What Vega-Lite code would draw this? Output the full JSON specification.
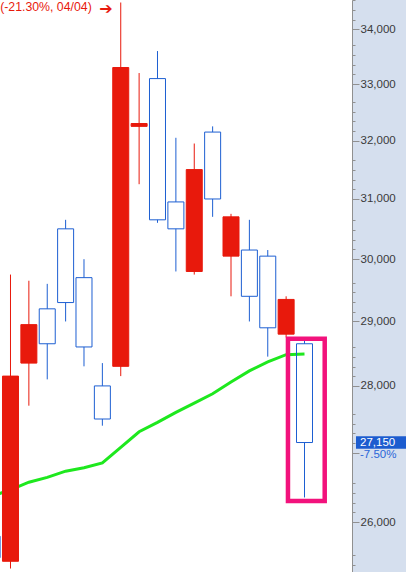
{
  "$schema": "https://vega.github.io/schema/vega-lite/v6.json",
  "width": 352,
  "height": 572,
  "autosize": {"type": "none"},
  "padding": {"left": 0, "top": 0, "right": 54, "bottom": 0},
  "background": "#d5dfee",
  "config": {"view": {"fill": "#ffffff", "stroke": null}, "font": "Liberation Sans"},
  "datasets": {
    "candles": [
      {"i": 0, "open": 25800, "high": 25950, "low": 25350, "close": 25500, "ma": 26370},
      {"i": 1, "open": 25450, "high": 29750, "low": 25350, "close": 28150, "ma": 26460},
      {"i": 2, "open": 28350, "high": 29650, "low": 27700, "close": 28950, "ma": 26570},
      {"i": 3, "open": 29200, "high": 29600, "low": 28100, "close": 28650, "ma": 26640},
      {"i": 4, "open": 30500, "high": 30650, "low": 29000, "close": 29300, "ma": 26730},
      {"i": 5, "open": 29700, "high": 30000, "low": 28300, "close": 28600, "ma": 26780},
      {"i": 6, "open": 28000, "high": 28350, "low": 27400, "close": 27500, "ma": 26850},
      {"i": 7, "open": 28300, "high": 34500, "low": 28150, "close": 33300, "ma": 27080},
      {"i": 8, "open": 32250, "high": 33200, "low": 31250, "close": 32300, "ma": 27310},
      {"i": 9, "open": 33100, "high": 33600, "low": 30600, "close": 30650, "ma": 27450},
      {"i": 10, "open": 30950, "high": 32050, "low": 29800, "close": 30500, "ma": 27600},
      {"i": 11, "open": 29800, "high": 31950, "low": 29750, "close": 31500, "ma": 27740},
      {"i": 12, "open": 32150, "high": 32250, "low": 30700, "close": 31000, "ma": 27880},
      {"i": 13, "open": 30050, "high": 30750, "low": 29400, "close": 30700, "ma": 28060},
      {"i": 14, "open": 30150, "high": 30650, "low": 29000, "close": 29400, "ma": 28230},
      {"i": 15, "open": 30050, "high": 30150, "low": 28450, "close": 28900, "ma": 28370},
      {"i": 16, "open": 28800, "high": 29400, "low": 28750, "close": 29350, "ma": 28480},
      {"i": 17, "open": 28650, "high": 28700, "low": 26350, "close": 27150, "ma": 28490}
    ],
    "highlight": [{"start": 16.1, "end": 18.1, "top": 28730, "bottom": 26300}],
    "annotation": [{"i": 7, "price": 34500, "label": "(-21.30%, 04/04)", "arrow": "➔"}],
    "last": [{"price": 27150, "change": "-7.50%"}]
  },
  "layer": [
    {
      "data": {"name": "candles"},
      "mark": {"type": "line", "color": "#1ee81e", "strokeWidth": 3, "clip": true},
      "encoding": {
        "x": {"field": "i", "type": "quantitative", "scale": {"domain": [0.4286, 19.585], "nice": false, "zero": false, "padding": 0}, "axis": null},
        "y": {
          "field": "ma", "type": "quantitative",
          "scale": {"type": "log", "domain": [25302, 34547], "nice": false, "padding": 0},
          "axis": {
            "orient": "right", "title": null, "grid": false,
            "values": [26000, 27000, 28000, 29000, 30000, 31000, 32000, 33000, 34000],
            "labelExpr": "datum.value == 27000 ? '' : format(datum.value, ',')",
            "tickSize": 7, "labelPadding": 1, "labelOverlap": false, "labelFlush": false,
            "domainColor": "#909090", "tickColor": "#909090", "labelColor": "#3a3a3a",
            "labelFont": "Liberation Sans", "labelFontSize": 11.5
          }
        }
      }
    },
    {
      "data": {"name": "candles"},
      "mark": {"type": "rule", "strokeWidth": 1, "clip": true},
      "encoding": {
        "x": {"field": "i", "type": "quantitative", "scale": {"domain": [0.4286, 19.585], "nice": false, "zero": false, "padding": 0}, "axis": null},
        "y": {
          "field": "high", "type": "quantitative",
          "scale": {"type": "log", "domain": [25302, 34547], "nice": false, "padding": 0},
          "axis": {
            "orient": "right", "title": null, "grid": false, "labels": false, "domain": false,
            "values": [25399, 25534, 26138, 26276, 26415, 26555, 27143, 27287, 27431, 27576, 28148, 28297, 28447, 28598, 29154, 29308, 29463, 29619, 30159, 30319, 30479, 30640, 31164, 31329, 31495, 31662, 32169, 32340, 32511, 32683, 33175, 33350, 33527, 33705, 34180, 34361, 34543],
            "tickSize": 3, "tickColor": "#909090"
          }
        },
        "y2": {"field": "open"},
        "color": {"condition": {"test": "datum.close >= datum.open", "value": "#e8190c"}, "value": "#1d5fd2"}
      }
    },
    {
      "data": {"name": "candles"},
      "mark": {"type": "rule", "strokeWidth": 1, "clip": true},
      "encoding": {
        "x": {"field": "i", "type": "quantitative", "scale": {"domain": [0.4286, 19.585], "nice": false, "zero": false, "padding": 0}, "axis": null},
        "y": {"field": "low", "type": "quantitative", "scale": {"type": "log", "domain": [25302, 34547], "nice": false, "padding": 0}, "axis": null},
        "y2": {"field": "close"},
        "color": {"condition": {"test": "datum.close >= datum.open", "value": "#e8190c"}, "value": "#1d5fd2"}
      }
    },
    {
      "data": {"name": "candles"},
      "mark": {"type": "bar", "width": 16, "strokeWidth": 1, "clip": true},
      "encoding": {
        "x": {"field": "i", "type": "quantitative", "scale": {"domain": [0.4286, 19.585], "nice": false, "zero": false, "padding": 0}, "axis": null},
        "y": {"field": "open", "type": "quantitative", "scale": {"type": "log", "domain": [25302, 34547], "nice": false, "padding": 0}, "axis": null},
        "y2": {"field": "close"},
        "fill": {"condition": {"test": "datum.close >= datum.open", "value": "#e8190c"}, "value": "transparent"},
        "stroke": {"condition": {"test": "datum.close >= datum.open", "value": "#e8190c"}, "value": "#1d5fd2"}
      }
    },
    {
      "data": {"name": "highlight"},
      "mark": {"type": "rect", "filled": false, "color": "#f2127c", "strokeWidth": 4.5},
      "encoding": {
        "x": {"field": "start", "type": "quantitative", "scale": {"domain": [0.4286, 19.585], "nice": false, "zero": false, "padding": 0}, "axis": null},
        "x2": {"field": "end"},
        "y": {"field": "top", "type": "quantitative", "scale": {"type": "log", "domain": [25302, 34547], "nice": false, "padding": 0}, "axis": null},
        "y2": {"field": "bottom"}
      }
    },
    {
      "data": {"name": "annotation"},
      "mark": {"type": "text", "align": "right", "baseline": "middle", "dx": -29, "dy": 4.5, "fontSize": 12.3, "color": "#e8190c", "font": "Liberation Sans"},
      "encoding": {
        "x": {"field": "i", "type": "quantitative", "scale": {"domain": [0.4286, 19.585], "nice": false, "zero": false, "padding": 0}, "axis": null},
        "y": {"field": "price", "type": "quantitative", "scale": {"type": "log", "domain": [25302, 34547], "nice": false, "padding": 0}, "axis": null},
        "text": {"field": "label"}
      }
    },
    {
      "data": {"name": "annotation"},
      "mark": {"type": "text", "align": "right", "baseline": "middle", "dx": -8, "dy": 6, "fontSize": 16, "color": "#e8190c", "font": "DejaVu Sans"},
      "encoding": {
        "x": {"field": "i", "type": "quantitative", "scale": {"domain": [0.4286, 19.585], "nice": false, "zero": false, "padding": 0}, "axis": null},
        "y": {"field": "price", "type": "quantitative", "scale": {"type": "log", "domain": [25302, 34547], "nice": false, "padding": 0}, "axis": null},
        "text": {"field": "arrow"}
      }
    },
    {
      "data": {"name": "last"},
      "mark": {"type": "tick", "orient": "horizontal", "size": 50, "thickness": 12.5, "opacity": 1, "color": "#1c5ccf", "xOffset": 29},
      "encoding": {
        "x": {"value": "width"},
        "y": {"field": "price", "type": "quantitative", "scale": {"type": "log", "domain": [25302, 34547], "nice": false, "padding": 0}, "axis": null}
      }
    },
    {
      "data": {"name": "last"},
      "mark": {"type": "text", "align": "left", "baseline": "middle", "dx": 8, "fontSize": 11.5, "color": "#ffffff", "font": "Liberation Sans"},
      "encoding": {
        "x": {"value": "width"},
        "y": {"field": "price", "type": "quantitative", "scale": {"type": "log", "domain": [25302, 34547], "nice": false, "padding": 0}, "axis": null},
        "text": {"field": "price", "format": ","}
      }
    },
    {
      "data": {"name": "last"},
      "mark": {"type": "text", "align": "left", "baseline": "middle", "dx": 8, "dy": 12, "fontSize": 11.5, "color": "#2a66d8", "font": "Liberation Sans"},
      "encoding": {
        "x": {"value": "width"},
        "y": {"field": "price", "type": "quantitative", "scale": {"type": "log", "domain": [25302, 34547], "nice": false, "padding": 0}, "axis": null},
        "text": {"field": "change"}
      }
    }
  ],
  "resolve": {"axis": {"y": "independent"}}
}
